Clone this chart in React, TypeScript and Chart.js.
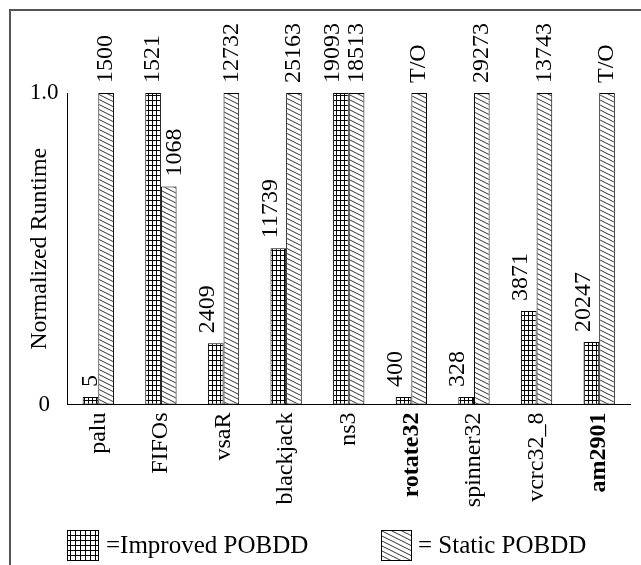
import React, { useEffect, useRef } from 'react';
import { Chart, registerables } from 'chart.js';

Chart.register(...registerables);

const categories = ['palu', 'FIFOs', 'vsaR', 'blackjack', 'ns3', 'rotate32', 'spinner32', 'vcrc32_8', 'am2901'];
const boldCategories = ['rotate32', 'am2901'];
const improvedValues = [0.024, 1.0, 0.197, 0.502, 1.0, 0.024, 0.024, 0.3, 0.201];
const staticValues = [1.0, 0.7, 1.0, 1.0, 1.0, 1.0, 1.0, 1.0, 1.0];
const improvedLabels = ['5', '1521', '2409', '11739', '19093', '400', '328', '3871', '20247'];
const staticLabels = ['1500', '1068', '12732', '25163', '18513', 'T/O', '29273', '13743', 'T/O'];
const yTickValues = [0, 1];
const yTickLabels = ['0', '1.0'];
const seriesNames = ['=Improved POBDD', '= Static POBDD'];
const yTitle = 'Normalized Runtime';

const FONT = '"Liberation Serif", "Times New Roman", serif';

function makeGridPattern(w: number, h: number): CanvasPattern | string {
  const c = document.createElement('canvas');
  c.width = w;
  c.height = h;
  const g = c.getContext('2d');
  if (!g) return '#fff';
  g.fillStyle = '#fff';
  g.fillRect(0, 0, w, h);
  g.fillStyle = '#000';
  g.fillRect(0, 0, 1, h);
  g.fillRect(0, 0, w, 1);
  return g.createPattern(c, 'repeat') || '#fff';
}

function makeHatchPattern(w: number, h: number): CanvasPattern | string {
  const c = document.createElement('canvas');
  c.width = w;
  c.height = h;
  const g = c.getContext('2d');
  if (!g) return '#fff';
  g.fillStyle = '#fff';
  g.fillRect(0, 0, w, h);
  g.strokeStyle = '#000';
  g.lineWidth = 0.8;
  for (let k = -1; k <= 1; k++) {
    g.beginPath();
    g.moveTo(0, k * h);
    g.lineTo(w, h + k * h);
    g.stroke();
  }
  return g.createPattern(c, 'repeat') || '#fff';
}

export default function App() {
  const ref = useRef<HTMLCanvasElement | null>(null);

  useEffect(() => {
    const canvas = ref.current;
    if (!canvas) return;
    const gridPat = makeGridPattern(4, 5);
    const hatchPat = makeHatchPattern(10, 5);
    const legendGridPat = makeGridPattern(5, 5);

    const framePlugin = {
      id: 'framePlugin',
      beforeDraw(chart: any) {
        const ctx = chart.ctx;
        ctx.save();
        ctx.fillStyle = '#fff';
        ctx.fillRect(0, 0, chart.width, chart.height);
        ctx.strokeStyle = '#555';
        ctx.lineWidth = 2;
        ctx.beginPath();
        ctx.moveTo(chart.width, 10);
        ctx.lineTo(10, 10);
        ctx.lineTo(10, chart.height);
        ctx.stroke();
        ctx.restore();
      },
    };

    const labelPlugin = {
      id: 'labelPlugin',
      afterDatasetsDraw(chart: any) {
        const ctx = chart.ctx;
        const m0 = chart.getDatasetMeta(0);
        const m1 = chart.getDatasetMeta(1);
        ctx.save();
        ctx.fillStyle = '#000';
        ctx.font = `24px ${FONT}`;
        ctx.textAlign = 'left';
        ctx.textBaseline = 'middle';
        const gap = 10;
        const draw = (text: string, x: number, y: number) => {
          ctx.save();
          ctx.translate(x, y);
          ctx.rotate(-Math.PI / 2);
          ctx.fillText(text, 0, 0);
          ctx.restore();
        };
        for (let i = 0; i < categories.length; i++) {
          const a = m0.data[i];
          const b = m1.data[i];
          const iv = improvedValues[i];
          const sv = staticValues[i];
          const shiftA = iv > sv || improvedLabels[i].length < 2 ? 0 : -8;
          const shiftB = sv < iv ? 5.5 : 0;
          draw(improvedLabels[i], a.x + shiftA, a.y - gap);
          draw(staticLabels[i], b.x + shiftB, b.y - gap);
        }
        ctx.restore();
      },
      afterDraw(chart: any) {
        const ctx = chart.ctx;
        const area = chart.chartArea;
        ctx.save();
        ctx.fillStyle = '#000';
        ctx.font = `24px ${FONT}`;
        ctx.textAlign = 'center';
        ctx.textBaseline = 'middle';
        ctx.save();
        ctx.translate(40, (area.top + area.bottom) / 2);
        ctx.rotate(-Math.PI / 2);
        ctx.fillText(yTitle, 0, 0);
        ctx.restore();
        ctx.strokeStyle = '#000';
        ctx.lineWidth = 1;
        ctx.fillStyle = legendGridPat as any;
        ctx.fillRect(67, 530, 32, 31);
        ctx.strokeRect(67.5, 530.5, 31, 30);
        ctx.fillStyle = hatchPat as any;
        ctx.fillRect(381, 530, 31, 31);
        ctx.strokeRect(381.5, 530.5, 30, 30);
        ctx.fillStyle = '#000';
        ctx.font = `25px ${FONT}`;
        ctx.textAlign = 'left';
        ctx.fillText(seriesNames[0], 106, 546);
        ctx.fillText(seriesNames[1], 418, 546);
        ctx.restore();
      },
    };

    const chart = new Chart(canvas, {
      type: 'bar',
      data: {
        labels: categories,
        datasets: [
          {
            label: seriesNames[0],
            data: improvedValues,
            backgroundColor: gridPat as any,
            borderColor: '#000',
            borderWidth: 1,
            borderSkipped: false,
            categoryPercentage: 0.5,
            barPercentage: 1.0,
          },
          {
            label: seriesNames[1],
            data: staticValues,
            backgroundColor: hatchPat as any,
            borderColor: '#000',
            borderWidth: 1,
            borderSkipped: false,
            categoryPercentage: 0.5,
            barPercentage: 1.0,
          },
        ],
      },
      options: {
        responsive: false,
        animation: false,
        devicePixelRatio: 1,
        layout: { padding: { left: 0, right: 10.5, top: 93, bottom: 0 } },
        plugins: {
          legend: { display: false },
          title: { display: false },
          tooltip: { enabled: false },
        },
        scales: {
          x: {
            grid: { display: false, drawTicks: false },
            border: { display: true, color: '#000', width: 1 },
            ticks: {
              autoSkip: false,
              minRotation: 90,
              maxRotation: 90,
              padding: 8,
              color: '#000',
              font: (ctx: any) => ({
                family: FONT,
                size: 24,
                weight: boldCategories.includes(categories[ctx.index]) ? 'bold' : 'normal',
              }),
            },
            afterFit: (scale: any) => {
              scale.height = 160.5;
            },
          },
          y: {
            min: 0,
            max: 1,
            grid: { display: false, drawTicks: false },
            border: { display: true, color: '#000', width: 1 },
            afterBuildTicks: (scale: any) => {
              scale.ticks = yTickValues.map((v) => ({ value: v }));
            },
            ticks: {
              crossAlign: 'center',
              padding: 8.5,
              color: '#000',
              font: { family: FONT, size: 23 },
              callback: (v: any) => {
                const idx = yTickValues.indexOf(Number(v));
                return idx >= 0 ? yTickLabels[idx] : '';
              },
            },
            afterFit: (scale: any) => {
              scale.width = 67;
            },
          },
        },
      },
      plugins: [framePlugin, labelPlugin],
    });

    return () => {
      chart.destroy();
    };
  }, []);

  return (
    <div style={{ position: 'fixed', left: 0, top: 0, width: 641, height: 565, background: '#fff' }}>
      <canvas ref={ref} width={641} height={565} style={{ display: 'block', width: 641, height: 565 }} />
    </div>
  );
}
